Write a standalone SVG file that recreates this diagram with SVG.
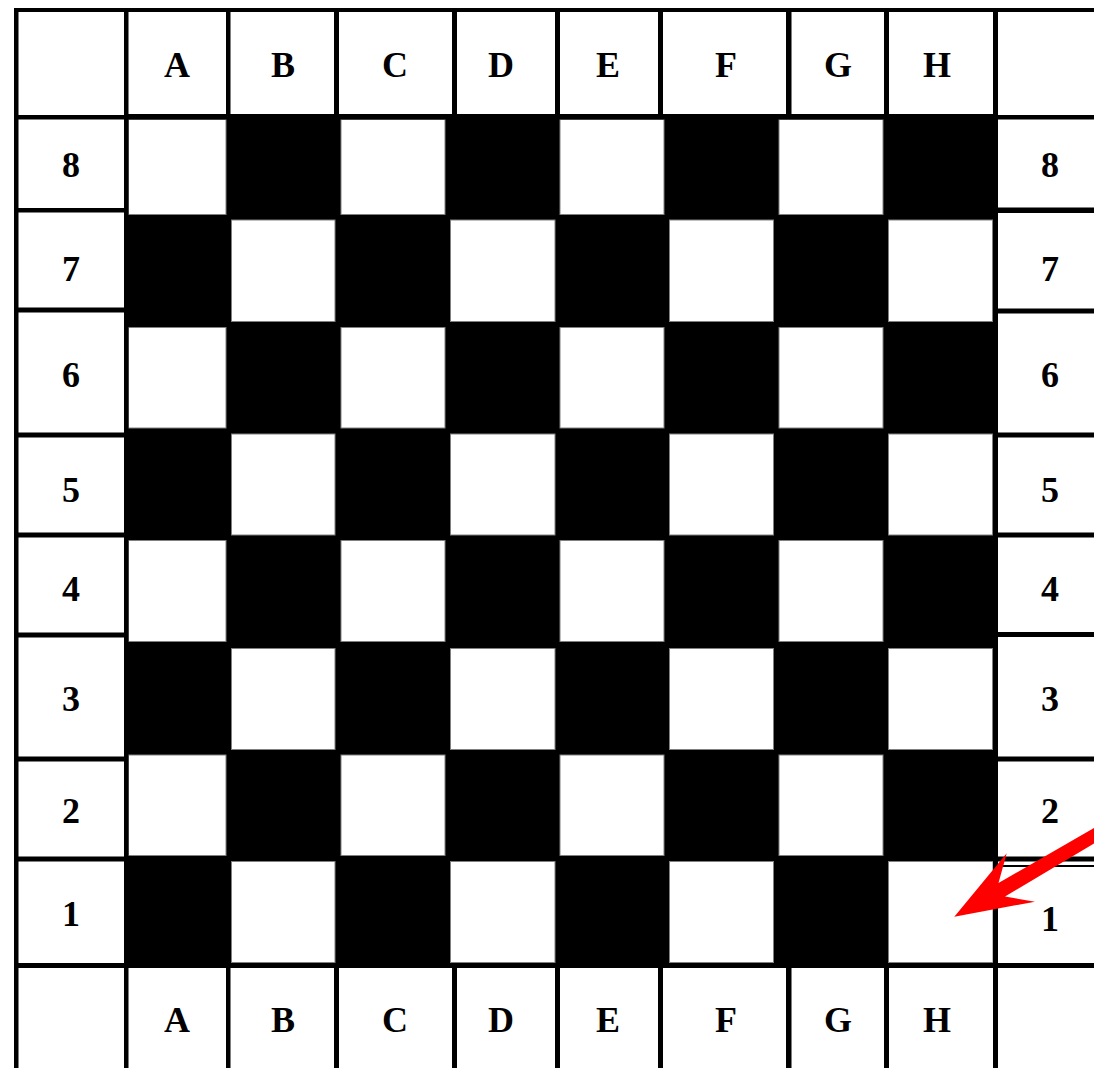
<svg xmlns="http://www.w3.org/2000/svg" width="1094" height="1068" viewBox="0 0 1094 1068">
<style>
.ln{fill:#000}
.w{fill:#fff;stroke:#808080;stroke-width:1}
.lbl{font-family:"Liberation Serif","Times New Roman",serif;font-weight:bold;font-size:36px;fill:#000;text-anchor:middle}
</style>
<rect x="0" y="0" width="1094" height="1068" fill="#fff"/>
<g id="board">
<rect x="124" y="114" width="874" height="854" fill="#000"/>
<g id="white-squares">
<rect class="w" x="128.5" y="119.5" width="97.5" height="95"/>
<rect class="w" x="341" y="119.5" width="104" height="95"/>
<rect class="w" x="560" y="119.5" width="104" height="95"/>
<rect class="w" x="779" y="119.5" width="104" height="95"/>
<rect class="w" x="231.5" y="220" width="103.5" height="101.5"/>
<rect class="w" x="450.5" y="220" width="104.5" height="101.5"/>
<rect class="w" x="669.5" y="220" width="104" height="101.5"/>
<rect class="w" x="888.5" y="220" width="104" height="101.5"/>
<rect class="w" x="128.5" y="327.5" width="97.5" height="100.5"/>
<rect class="w" x="341" y="327.5" width="104" height="100.5"/>
<rect class="w" x="560" y="327.5" width="104" height="100.5"/>
<rect class="w" x="779" y="327.5" width="104" height="100.5"/>
<rect class="w" x="231.5" y="434" width="103.5" height="101"/>
<rect class="w" x="450.5" y="434" width="104.5" height="101"/>
<rect class="w" x="669.5" y="434" width="104" height="101"/>
<rect class="w" x="888.5" y="434" width="104" height="101"/>
<rect class="w" x="128.5" y="540.5" width="97.5" height="101"/>
<rect class="w" x="341" y="540.5" width="104" height="101"/>
<rect class="w" x="560" y="540.5" width="104" height="101"/>
<rect class="w" x="779" y="540.5" width="104" height="101"/>
<rect class="w" x="231.5" y="648.5" width="103.5" height="101"/>
<rect class="w" x="450.5" y="648.5" width="104.5" height="101"/>
<rect class="w" x="669.5" y="648.5" width="104" height="101"/>
<rect class="w" x="888.5" y="648.5" width="104" height="101"/>
<rect class="w" x="128.5" y="755" width="97.5" height="100.5"/>
<rect class="w" x="341" y="755" width="104" height="100.5"/>
<rect class="w" x="560" y="755" width="104" height="100.5"/>
<rect class="w" x="779" y="755" width="104" height="100.5"/>
<rect class="w" x="231.5" y="861.5" width="103.5" height="101"/>
<rect class="w" x="450.5" y="861.5" width="104.5" height="101"/>
<rect class="w" x="669.5" y="861.5" width="104" height="101"/>
<rect class="w" x="888.5" y="861.5" width="104.5" height="101"/>
</g>
</g>
<g id="grid-lines">
<rect class="ln" x="14" y="8" width="1080" height="4"/>
<rect class="ln" x="14" y="115" width="1080" height="4.5"/>
<rect class="ln" x="14" y="963" width="1080" height="5"/>
<rect class="ln" x="14" y="8" width="4.5" height="1060"/>
<rect class="ln" x="124" y="8" width="4.5" height="1060"/>
<rect class="ln" x="993" y="8" width="5" height="1060"/>
<rect class="ln" x="226" y="8" width="4.5" height="111"/>
<rect class="ln" x="334" y="8" width="5" height="111"/>
<rect class="ln" x="452" y="8" width="5" height="111"/>
<rect class="ln" x="555" y="8" width="5" height="111"/>
<rect class="ln" x="658" y="8" width="5" height="111"/>
<rect class="ln" x="786" y="8" width="5.5" height="111"/>
<rect class="ln" x="884" y="8" width="5" height="111"/>
<rect class="ln" x="226" y="963" width="4.5" height="105"/>
<rect class="ln" x="334" y="963" width="5" height="105"/>
<rect class="ln" x="452" y="963" width="5" height="105"/>
<rect class="ln" x="555" y="963" width="5" height="105"/>
<rect class="ln" x="658" y="963" width="5" height="105"/>
<rect class="ln" x="786" y="963" width="5.5" height="105"/>
<rect class="ln" x="884" y="963" width="5" height="105"/>
<rect class="ln" x="14" y="208" width="114" height="4.5"/>
<rect class="ln" x="14" y="307.5" width="114" height="5"/>
<rect class="ln" x="14" y="432.5" width="114" height="5"/>
<rect class="ln" x="14" y="532.5" width="114" height="5"/>
<rect class="ln" x="14" y="632.5" width="114" height="5"/>
<rect class="ln" x="14" y="756.5" width="114" height="5"/>
<rect class="ln" x="14" y="856.5" width="114" height="5"/>
<rect class="ln" x="993" y="207.5" width="101" height="5.5"/>
<rect class="ln" x="993" y="308.5" width="101" height="5"/>
<rect class="ln" x="993" y="432.5" width="101" height="5"/>
<rect class="ln" x="993" y="532.5" width="101" height="5"/>
<rect class="ln" x="993" y="632" width="101" height="5"/>
<rect class="ln" x="993" y="756.5" width="101" height="5"/>
<rect class="ln" x="993" y="856.5" width="101" height="5"/>
<rect class="ln" x="998" y="865" width="96" height="2"/>
</g>
<g id="file-labels-top">
<text class="lbl" x="177" y="77">A</text>
<text class="lbl" x="283" y="77">B</text>
<text class="lbl" x="395" y="77">C</text>
<text class="lbl" x="501" y="77">D</text>
<text class="lbl" x="608" y="77">E</text>
<text class="lbl" x="726" y="77">F</text>
<text class="lbl" x="838" y="77">G</text>
<text class="lbl" x="937" y="77">H</text>
</g>
<g id="file-labels-bottom">
<text class="lbl" x="177" y="1031.5">A</text>
<text class="lbl" x="283" y="1031.5">B</text>
<text class="lbl" x="395" y="1031.5">C</text>
<text class="lbl" x="501" y="1031.5">D</text>
<text class="lbl" x="608" y="1031.5">E</text>
<text class="lbl" x="726" y="1031.5">F</text>
<text class="lbl" x="838" y="1031.5">G</text>
<text class="lbl" x="937" y="1031.5">H</text>
</g>
<g id="rank-labels-left">
<text class="lbl" x="71" y="177">8</text>
<text class="lbl" x="71" y="281">7</text>
<text class="lbl" x="71" y="386.5">6</text>
<text class="lbl" x="71" y="501.5">5</text>
<text class="lbl" x="71" y="600.5">4</text>
<text class="lbl" x="71" y="710.5">3</text>
<text class="lbl" x="71" y="823">2</text>
<text class="lbl" x="71" y="926">1</text>
</g>
<g id="rank-labels-right">
<text class="lbl" x="1050" y="177">8</text>
<text class="lbl" x="1050" y="281">7</text>
<text class="lbl" x="1050" y="386.5">6</text>
<text class="lbl" x="1050" y="501.5">5</text>
<text class="lbl" x="1050" y="600.5">4</text>
<text class="lbl" x="1050" y="710.5">3</text>
<text class="lbl" x="1050" y="823">2</text>
<text class="lbl" x="1050" y="931">1</text>
</g>
<g id="connectors">
<polygon fill="#ff0000" points="954.3,916.7 1006.7,853.3 998.5,883 1094,828 1094,843.5 1005,896.5 1035,901.7"/>
</g>
</svg>
